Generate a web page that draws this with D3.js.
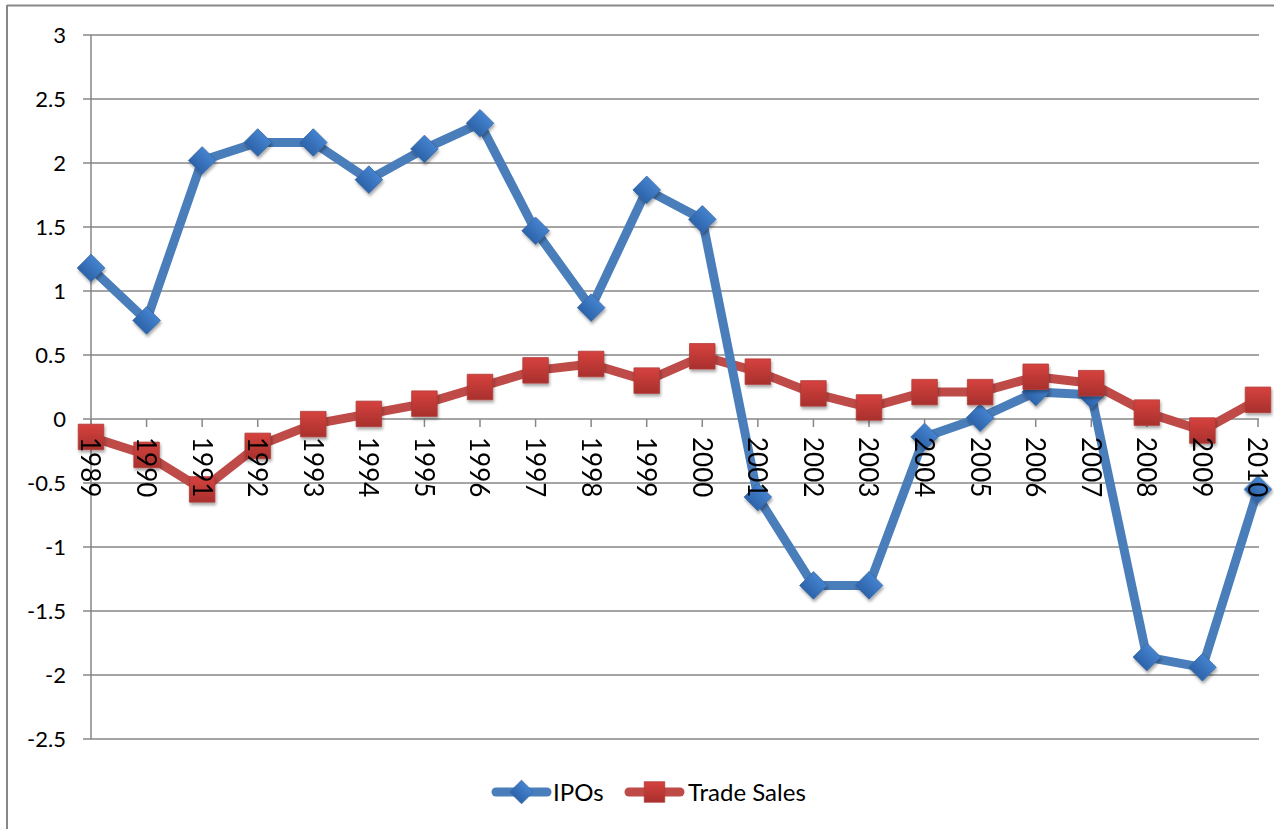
<!DOCTYPE html>
<html>
<head>
<meta charset="utf-8">
<script src="https://cdn.jsdelivr.net/npm/d3@7"></script>
<style>
  html, body { margin: 0; padding: 0; background: #fff; }
  svg { display: block; font-family: Lato, "Open Sans", "Liberation Sans", sans-serif; }
</style>
</head>
<body>
<div id="chart"></div>
<script>
// data
const years = ['1989', '1990', '1991', '1992', '1993', '1994', '1995', '1996', '1997', '1998', '1999',
               '2000', '2001', '2002', '2003', '2004', '2005', '2006', '2007', '2008', '2009', '2010'];
const ipos = [1.18, 0.77, 2.02, 2.16, 2.16, 1.87, 2.11, 2.31, 1.47, 0.87, 1.79,
              1.56, -0.61, -1.30, -1.30, -0.14, 0.01, 0.21, 0.19, -1.86, -1.94, -0.55];
const tradeSales = [-0.14, -0.28, -0.55, -0.21, -0.04, 0.04, 0.12, 0.25, 0.38, 0.43, 0.30,
                    0.49, 0.37, 0.20, 0.09, 0.21, 0.21, 0.33, 0.28, 0.05, -0.09, 0.15];
const yTicks = [3, 2.5, 2, 1.5, 1, 0.5, 0, -0.5, -1, -1.5, -2, -2.5];
const seriesNames = ['IPOs', 'Trade Sales'];

const W = 1274, H = 829;
const svg = d3.select('#chart').append('svg').attr('width', W).attr('height', H);

const defs = svg.append('defs');
const shadow = defs.append('filter').attr('id', 'shadow')
    .attr('x', '-50%').attr('y', '-50%').attr('width', '200%').attr('height', '200%');
shadow.append('feDropShadow').attr('dx', 1).attr('dy', 2.5).attr('stdDeviation', 1.6)
    .attr('flood-color', '#000').attr('flood-opacity', 0.35);

function grad(id, top, bottom) {
    const g = defs.append('linearGradient').attr('id', id)
        .attr('x1', 0).attr('y1', 0).attr('x2', 0).attr('y2', 1);
    g.append('stop').attr('offset', '0%').attr('stop-color', top);
    g.append('stop').attr('offset', '100%').attr('stop-color', bottom);
}
grad('gBlue', '#4583cf', '#2c63aa');
grad('gRed', '#d6423e', '#a8302d');

const series = [
    { name: seriesNames[0], values: ipos, line: '#4a7ebb', fill: 'url(#gBlue)', stroke: '#3b6aa3', shape: 'diamond' },
    { name: seriesNames[1], values: tradeSales, line: '#be4b48', fill: 'url(#gRed)', stroke: '#b03c39', shape: 'square' }
];

// outer chart frame (only top/left visible in reference)
svg.append('line').attr('x1', 7).attr('y1', 5.5).attr('x2', W).attr('y2', 5.5)
    .attr('stroke', '#878787').attr('stroke-width', 2);
svg.append('line').attr('x1', 7).attr('y1', 5).attr('x2', 7).attr('y2', H)
    .attr('stroke', '#878787').attr('stroke-width', 2);

const x = d3.scalePoint().domain(years).range([91, 1258]);
const y = d3.scaleLinear().domain([-2.5, 3]).range([739, 35]);

// gridlines
svg.append('g').selectAll('line').data(yTicks).join('line')
    .attr('x1', 83).attr('x2', 1259)
    .attr('y1', d => y(d)).attr('y2', d => y(d))
    .attr('stroke', '#878787').attr('stroke-width', 1.5);

// y axis line
svg.append('line').attr('x1', x(years[0])).attr('x2', x(years[0]))
    .attr('y1', y(3)).attr('y2', y(-2.5))
    .attr('stroke', '#878787').attr('stroke-width', 1.5);

// x ticks below zero line
svg.append('g').selectAll('line').data(years).join('line')
    .attr('x1', d => x(d)).attr('x2', d => x(d))
    .attr('y1', y(0)).attr('y2', y(0) + 8)
    .attr('stroke', '#878787').attr('stroke-width', 1.5);

// y labels
svg.append('g').selectAll('text').data(yTicks).join('text')
    .attr('x', 66).attr('y', d => y(d)).attr('dy', '0.36em')
    .attr('text-anchor', 'end')
    .style('font-size', '22px').style('fill', '#000')
    .text(d => d);

// lines: red under blue
const line = d3.line().x((d, i) => x(years[i])).y(d => y(d));
[series[1], series[0]].forEach(s => {
    svg.append('path').datum(s.values)
        .attr('d', line)
        .attr('fill', 'none')
        .attr('stroke', s.line)
        .attr('stroke-width', 9)
        .attr('stroke-linejoin', 'round');
});

// markers
const diamond = d3.symbol(d3.symbolSquare, 380);
const square = d3.symbol(d3.symbolSquare, 650);
series.forEach(s => {
    svg.append('g').attr('filter', 'url(#shadow)').selectAll('path').data(s.values).join('path')
        .attr('d', s.shape === 'diamond' ? diamond : square)
        .attr('transform', (d, i) => `translate(${x(years[i])},${y(d)})` + (s.shape === 'diamond' ? ' rotate(45)' : ''))
        .attr('fill', s.fill)
        .attr('stroke', s.stroke)
        .attr('stroke-width', 0.8);
});

// x labels, rotated, on top
svg.append('g').selectAll('text').data(years).join('text')
    .attr('transform', d => `translate(${x(d)},${y(0) + 18}) rotate(90)`)
    .attr('dy', '0.37em')
    .attr('text-anchor', 'start')
    .style('font-size', '26px').style('fill', '#000')
    .text(d => d);

// legend
const legendItems = [
    { s: series[0], x0: 492, x1: 551, tx: 553 },
    { s: series[1], x0: 625, x1: 684, tx: 688 }
];
const ly = 792;
legendItems.forEach(it => {
    const g = svg.append('g');
    g.append('line').attr('x1', it.x0 + 4).attr('x2', it.x1 - 4).attr('y1', ly).attr('y2', ly)
        .attr('stroke', it.s.line).attr('stroke-width', 9).attr('stroke-linecap', 'round');
    const cx = (it.x0 + it.x1) / 2;
    g.append('path')
        .attr('d', it.s.shape === 'diamond' ? d3.symbol(d3.symbolSquare, 280)() : d3.symbol(d3.symbolSquare, 420)())
        .attr('transform', `translate(${cx},${ly})` + (it.s.shape === 'diamond' ? ' rotate(45)' : ''))
        .attr('fill', it.s.fill).attr('stroke', it.s.stroke).attr('stroke-width', 0.8);
    g.append('text').attr('x', it.tx).attr('y', ly).attr('dy', '0.36em')
        .style('font-size', '24px').style('fill', '#000')
        .text(it.s.name);
});
</script>
</body>
</html>
